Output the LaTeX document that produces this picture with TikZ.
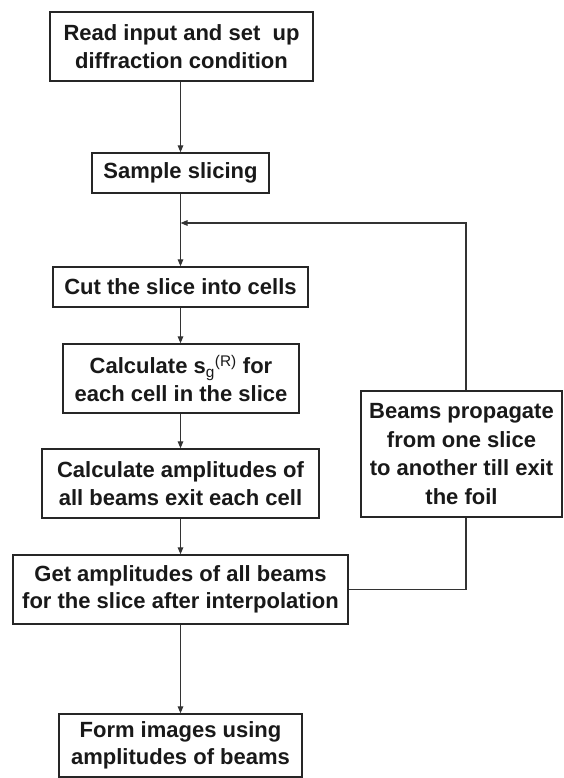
\documentclass[tikz,border=0pt]{standalone}
\usepackage{fontspec}
\setmainfont{Liberation Sans}
\usetikzlibrary{arrows.meta}
\tikzset{
  flowbox/.style={draw=black!85, line width=1.3pt, fill=white, inner sep=0pt,
    align=center, font=\bfseries\fontsize{22}{27.5}\selectfont, text=black!90},
  flowline/.style={draw=black!80, line width=1.2pt},
  flowarrow/.style={flowline, -{Triangle[length=7pt,width=5.5pt]}}
}
\begin{document}
\begin{tikzpicture}[x={(1pt,0)}, y={(0,-1pt)}]
  \useasboundingbox (0,0) rectangle (563,778);

  % main column of steps
  \node[flowbox, minimum width=263pt, minimum height=69pt] (read) at (181.5,46.5)
    {Read input and set\ \ up\\diffraction condition};
  \node[flowbox, minimum width=177pt, minimum height=40pt] (slice) at (180.5,173)
    {Sample slicing};
  \node[flowbox, minimum width=255pt, minimum height=40pt] (cut) at (180.5,287)
    {Cut the slice into cells};
  \node[flowbox, minimum width=236pt, minimum height=69pt] (sg) at (181,378.5)
    {Calculate s\textsubscript{\mdseries g}\textsuperscript{\mdseries (R)} for\\each cell in the slice};
  \node[flowbox, minimum width=277pt, minimum height=69pt] (amp) at (180.5,483.5)
    {Calculate amplitudes of\\all beams exit each cell};
  \node[flowbox, minimum width=335pt, minimum height=69pt] (get) at (180.5,589.5)
    {Get amplitudes of all beams\\for the slice after interpolation};
  \node[flowbox, minimum width=243pt, minimum height=63pt] (form) at (180.5,745.5)
    {Form images using\\amplitudes of beams};

  % side step of the slice loop
  \node[flowbox, minimum width=201pt, minimum height=126pt,
        font=\bfseries\fontsize{22}{28.5}\selectfont] (prop) at (461.5,454)
    {Beams propagate\\from one slice\\to another till exit\\the foil};

  % point where the loop rejoins the main column
  \coordinate (join) at (180.5,223);
  \coordinate (loopturn) at (466,223);
  \coordinate (loopin) at (466,589.5);

  % connectors of the main column
  \draw[flowarrow] (read.south -| slice.north) -- (slice.north);
  \draw[flowarrow] (slice.south) -- (cut.north);
  \draw[flowarrow] (cut.south) -- (cut.south |- sg.north);
  \draw[flowarrow] (sg.south -| amp.north) -- (amp.north);
  \draw[flowarrow] (amp.south) -- (get.north);
  \draw[flowarrow] (get.south) -- (form.north);

  % loop back through the propagation step
  \draw[flowline] (get.east) -- (loopin) -- (loopin |- prop.south);
  \draw[flowarrow] (prop.north -| loopturn) -- (loopturn) -- (join);
\end{tikzpicture}
\end{document}
